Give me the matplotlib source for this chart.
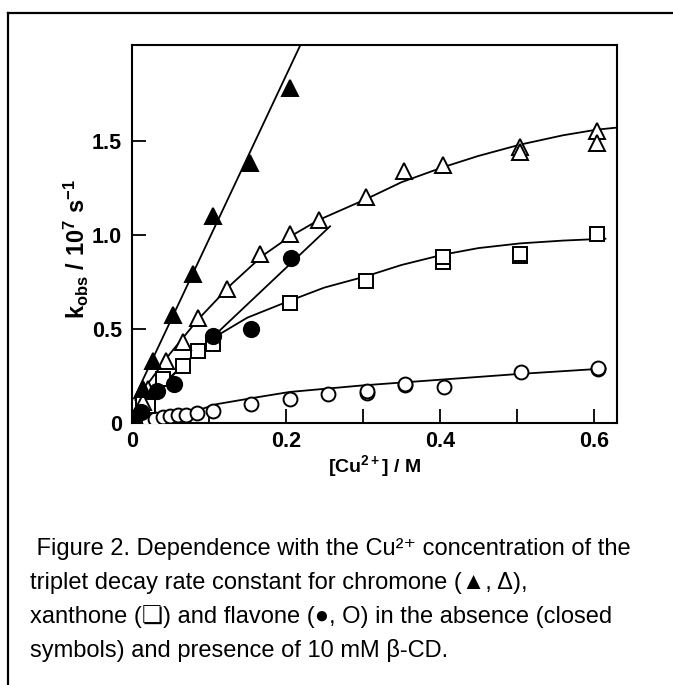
import matplotlib
matplotlib.use("Agg")
import matplotlib.pyplot as plt
from matplotlib.lines import Line2D

plt.rcParams['mathtext.fontset'] = 'custom'
plt.rcParams['mathtext.rm'] = 'Liberation Sans'
plt.rcParams['mathtext.it'] = 'Liberation Sans:italic'
plt.rcParams['mathtext.bf'] = 'Liberation Sans:bold'
plt.rcParams['font.family'] = ['Liberation Sans', 'DejaVu Sans']

# ---- data ----
# chromone, no CD (filled triangles)
chrom_x = [0.004, 0.015, 0.028, 0.054, 0.079, 0.105, 0.154, 0.205]
chrom_y = [0.03, 0.18, 0.33, 0.575, 0.79, 1.10, 1.38, 1.78]
chrom_fit_x = [0.003, 0.219]
chrom_fit_y = [0.13, 2.01]

# chromone + CD (open triangles)
chromcd_x = [0.002, 0.015, 0.021, 0.044, 0.066, 0.086, 0.124, 0.167, 0.205, 0.243,
             0.304, 0.354, 0.404, 0.504, 0.504, 0.604, 0.604]
chromcd_y = [0.01, 0.11, 0.18, 0.33, 0.43, 0.56, 0.71, 0.90, 1.005, 1.08,
             1.20, 1.34, 1.37, 1.47, 1.44, 1.555, 1.49]
chromcd_fit_x = [0.005, 0.05, 0.086, 0.13, 0.17, 0.205, 0.243, 0.304, 0.35, 0.404, 0.45, 0.504, 0.56, 0.604, 0.628]
chromcd_fit_y = [0.12, 0.37, 0.55, 0.74, 0.89, 0.99, 1.08, 1.19, 1.28, 1.36, 1.42, 1.48, 1.53, 1.56, 1.57]

# xanthone + CD (open squares)
xan_x = [0.002, 0.015, 0.021, 0.041, 0.066, 0.086, 0.105, 0.205, 0.304, 0.404, 0.404, 0.504, 0.504, 0.604]
xan_y = [0.02, 0.10, 0.09, 0.234, 0.305, 0.385, 0.42, 0.638, 0.757, 0.855, 0.885, 0.89, 0.90, 1.005]
xan_fit_x = [0.0, 0.04, 0.07, 0.105, 0.15, 0.205, 0.25, 0.304, 0.35, 0.404, 0.45, 0.504, 0.56, 0.615]
xan_fit_y = [0.04, 0.20, 0.32, 0.45, 0.56, 0.65, 0.72, 0.78, 0.84, 0.895, 0.93, 0.955, 0.97, 0.98]

# flavone, no CD (filled circles)
flav_x = [0.003, 0.012, 0.033, 0.055, 0.106, 0.155, 0.207]
flav_y = [0.0, 0.06, 0.17, 0.21, 0.46, 0.50, 0.876]
flav_fit_x = [0.0, 0.2575]
flav_fit_y = [0.05, 1.046]

# flavone + CD (open circles)
flavcd_x = [0.003, 0.01, 0.02, 0.03, 0.04, 0.05, 0.06, 0.07, 0.085, 0.105, 0.155, 0.205,
            0.255, 0.305, 0.305, 0.355, 0.355, 0.405, 0.505, 0.605, 0.605]
flavcd_y = [0.0, 0.01, 0.015, 0.02, 0.03, 0.035, 0.04, 0.045, 0.055, 0.065, 0.10, 0.125,
            0.155, 0.16, 0.17, 0.20, 0.21, 0.19, 0.27, 0.285, 0.295]
flavcd_fit_x = [0.0, 0.03, 0.055, 0.08, 0.11, 0.16, 0.205, 0.3, 0.4, 0.5, 0.615]
flavcd_fit_y = [0.0, 0.01, 0.03, 0.06, 0.10, 0.135, 0.165, 0.20, 0.23, 0.26, 0.29]

x_ticks = [0, 0.1, 0.2, 0.3, 0.4, 0.5, 0.6]
x_ticklabels = ['0', '', '0.2', '', '0.4', '', '0.6']
y_ticks = [0, 0.5, 1.0, 1.5]
y_ticklabels = ['0', '0.5', '1.0', '1.5']

caption_lines = [
    " Figure 2. Dependence with the Cu\u00B2\u207A concentration of the",
    "triplet decay rate constant for chromone (\u25B2, \u0394),",
    "xanthone (\u274F) and flavone (\u25CF, O) in the absence (closed",
    "symbols) and presence of 10 mM \u03B2-CD.",
]

W, H = 673, 685
fig = plt.figure(figsize=(W / 100, H / 100), dpi=100)

# outer frame lines (top & left)
fig.add_artist(Line2D([8 / W, 1.0], [1 - 12.5 / H, 1 - 12.5 / H], color='black', lw=1.6,
                      transform=fig.transFigure))
fig.add_artist(Line2D([8 / W, 8 / W], [0.0, 1 - 12.5 / H], color='black', lw=1.6,
                      transform=fig.transFigure))

left, right, top, bottom = 131.7, 617, 45, 423
ax = fig.add_axes([left / W, 1 - bottom / H, (right - left) / W, (bottom - top) / H])

lw_fit = 1.3
ax.plot(chrom_fit_x, chrom_fit_y, color='black', lw=lw_fit, zorder=2)
ax.plot(chromcd_fit_x, chromcd_fit_y, color='black', lw=lw_fit, zorder=2)
ax.plot(xan_fit_x, xan_fit_y, color='black', lw=lw_fit, zorder=2)
ax.plot(flav_fit_x, flav_fit_y, color='black', lw=lw_fit, zorder=2)
ax.plot(flavcd_fit_x, flavcd_fit_y, color='black', lw=lw_fit, zorder=2)

mew = 1.4
ax.plot(flavcd_x, flavcd_y, 'o', ms=10, mfc='white', mec='black', mew=mew, ls='none', zorder=3)
ax.plot(xan_x, xan_y, 's', ms=9.5, mfc='white', mec='black', mew=mew, ls='none', zorder=3)
ax.plot(chromcd_x, chromcd_y, '^', ms=11, mfc='white', mec='black', mew=mew, ls='none', zorder=3)
ax.plot(flav_x, flav_y, 'o', ms=11, mfc='black', mec='black', mew=mew, ls='none', zorder=4)
ax.plot(chrom_x, chrom_y, '^', ms=11, mfc='black', mec='black', mew=mew, ls='none', zorder=4)

ax.set_xlim(0, 0.63)
ax.set_ylim(0, 2.01)
ax.set_xticks(x_ticks)
ax.set_xticklabels(x_ticklabels)
ax.set_yticks(y_ticks)
ax.set_yticklabels(y_ticklabels)
ax.tick_params(direction='in', length=10, width=1.3, labelsize=15.5)
ax.tick_params(axis='x', pad=6)
ax.tick_params(axis='y', pad=7)
for lbl in ax.get_xticklabels() + ax.get_yticklabels():
    lbl.set_fontweight('bold')
for sp in ax.spines.values():
    sp.set_linewidth(1.5)

ax.set_xlabel(r'$\mathbf{[Cu^{2+}]\ /\ M}$', fontsize=14)
ax.xaxis.set_label_coords(0.5, -0.08)
ax.set_ylabel(r'$\mathbf{k_{obs}\ /\ 10^{7}\ s^{-1}}$', fontsize=17)
ax.yaxis.set_label_coords(-0.084, 0.46)

ys = [549, 583, 617, 651]
xs = [30, 30, 30, 30]
for (t, yy, xx) in zip(caption_lines, ys, xs):
    fig.text(xx / W, 1 - yy / H, t, fontsize=17, va='center', ha='left',
             family=['Liberation Sans', 'DejaVu Sans'])

fig.savefig('out.png', dpi=100)
